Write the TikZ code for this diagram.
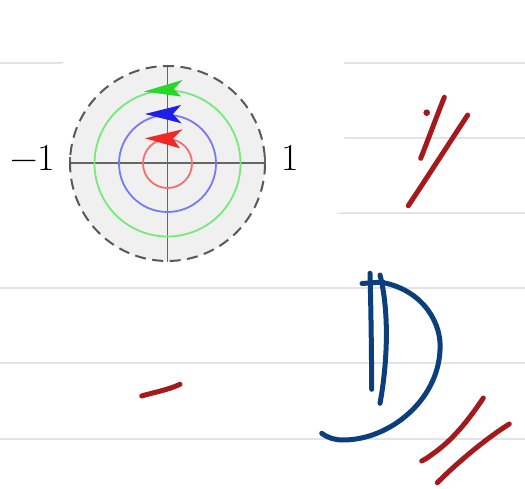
\documentclass[tikz,border=0pt]{standalone}
\usepackage{fontspec}
\definecolor{inkred}{RGB}{165,25,28}
\definecolor{inkblue}{RGB}{12,62,125}
\definecolor{ringgreen}{RGB}{120,232,120}
\definecolor{ringblue}{RGB}{120,120,250}
\definecolor{ringred}{RGB}{245,110,110}
\definecolor{headgreen}{RGB}{40,215,40}
\definecolor{headblue}{RGB}{30,30,235}
\definecolor{headred}{RGB}{240,40,40}
\begin{document}
\begin{tikzpicture}[x=1pt,y=-1pt,
  rule/.style={draw=black!11,line width=1.3pt},
  ink/.style={line width=5pt,line cap=round,line join=round},
  redink/.style={ink,draw=inkred},
  blueink/.style={ink,draw=inkblue},
  axis/.style={draw=black!60,line width=1.4pt},
  ring/.style={line width=1.8pt},
  lbl/.style={inner sep=0pt,font=\fontsize{38}{38}\selectfont}]
\useasboundingbox (0,0) rectangle (525,489);
\fill[white] (0,0) rectangle (525,489);
% ruled lines
\foreach \yy in {63,138,213,288,363,439} \draw[rule] (0,\yy) -- (525,\yy);
% pasted picture background
\fill[white] (67,61) -- (344,61) -- (344,211.5) -- (333,214.5) .. controls (320,250) and (300,280) .. (263,286.6) -- (77,286.6) .. controls (40,270) and (10,250) .. (0,230) -- (0,100) .. controls (20,85) and (50,70) .. (67,61) -- cycle;
% disc
\coordinate (O) at (167.5,163.5);
\fill[black!6] (O) circle (97.5);
\draw[axis] (70,163) -- (265,163);
\draw[axis] (70,157) -- (70,169);
\draw[axis] (265,157) -- (265,169);
\draw[axis] (167.5,65) -- (167.5,262);
\draw[black!65,line width=2pt,dash pattern=on 11pt off 6.5pt] (O) circle (97.5);
\draw[ring,ringgreen] (O) circle (73);
\draw[ring,ringblue] (O) circle (48.5);
\draw[ring,ringred] (O) circle (24.5);
% arrowheads
\fill[headgreen] (144,91.5) -- (182.5,80) -- (174,89) -- (181,96.5) -- cycle;
\fill[headblue] (145,114) -- (181,105) -- (173,114) -- (181.5,123.3) -- cycle;
\fill[headred] (145,138.3) -- (182.5,129.3) -- (173,138.5) -- (180,148.3) -- cycle;
% labels
\node[lbl] (m1) at (32.5,158) {−1};
\node[lbl] (p1) at (290,158) {1};
% red marks top right
\fill[inkred] (426.7,112.7) circle (3.3);
\draw[redink] (444.3,97.3) .. controls (436,118) and (428,140) .. (420.7,158.3);
\draw[redink] (467.7,115) .. controls (448,145) and (428,176) .. (408.3,205.7);
% blue D
\draw[blueink] (370,273.3) .. controls (371,310) and (371.5,350) .. (371.7,389.3);
\draw[blueink] (362,283.5) -- (383,282);
\draw[blueink] (380,275) .. controls (389,310) and (388,360) .. (380,403.3);
\draw[blueink] (385,283) .. controls (425,292) and (442,325) .. (440,350) .. controls (438,400) and (390,440) .. (343,440) .. controls (335,440) and (328,438) .. (321.7,433.3);
% red double slash bottom right
\draw[redink] (483.3,398) .. controls (470,418) and (455,437) .. (438,450) .. controls (430,456) and (426,459) .. (421.7,461);
\draw[redink] (509.3,424) .. controls (490,436) and (462,458) .. (437.3,482.7);
% red dash bottom left
\draw[redink] (141.7,396) .. controls (155,392) and (168,390) .. (180,384.3);
\end{tikzpicture}
\end{document}
